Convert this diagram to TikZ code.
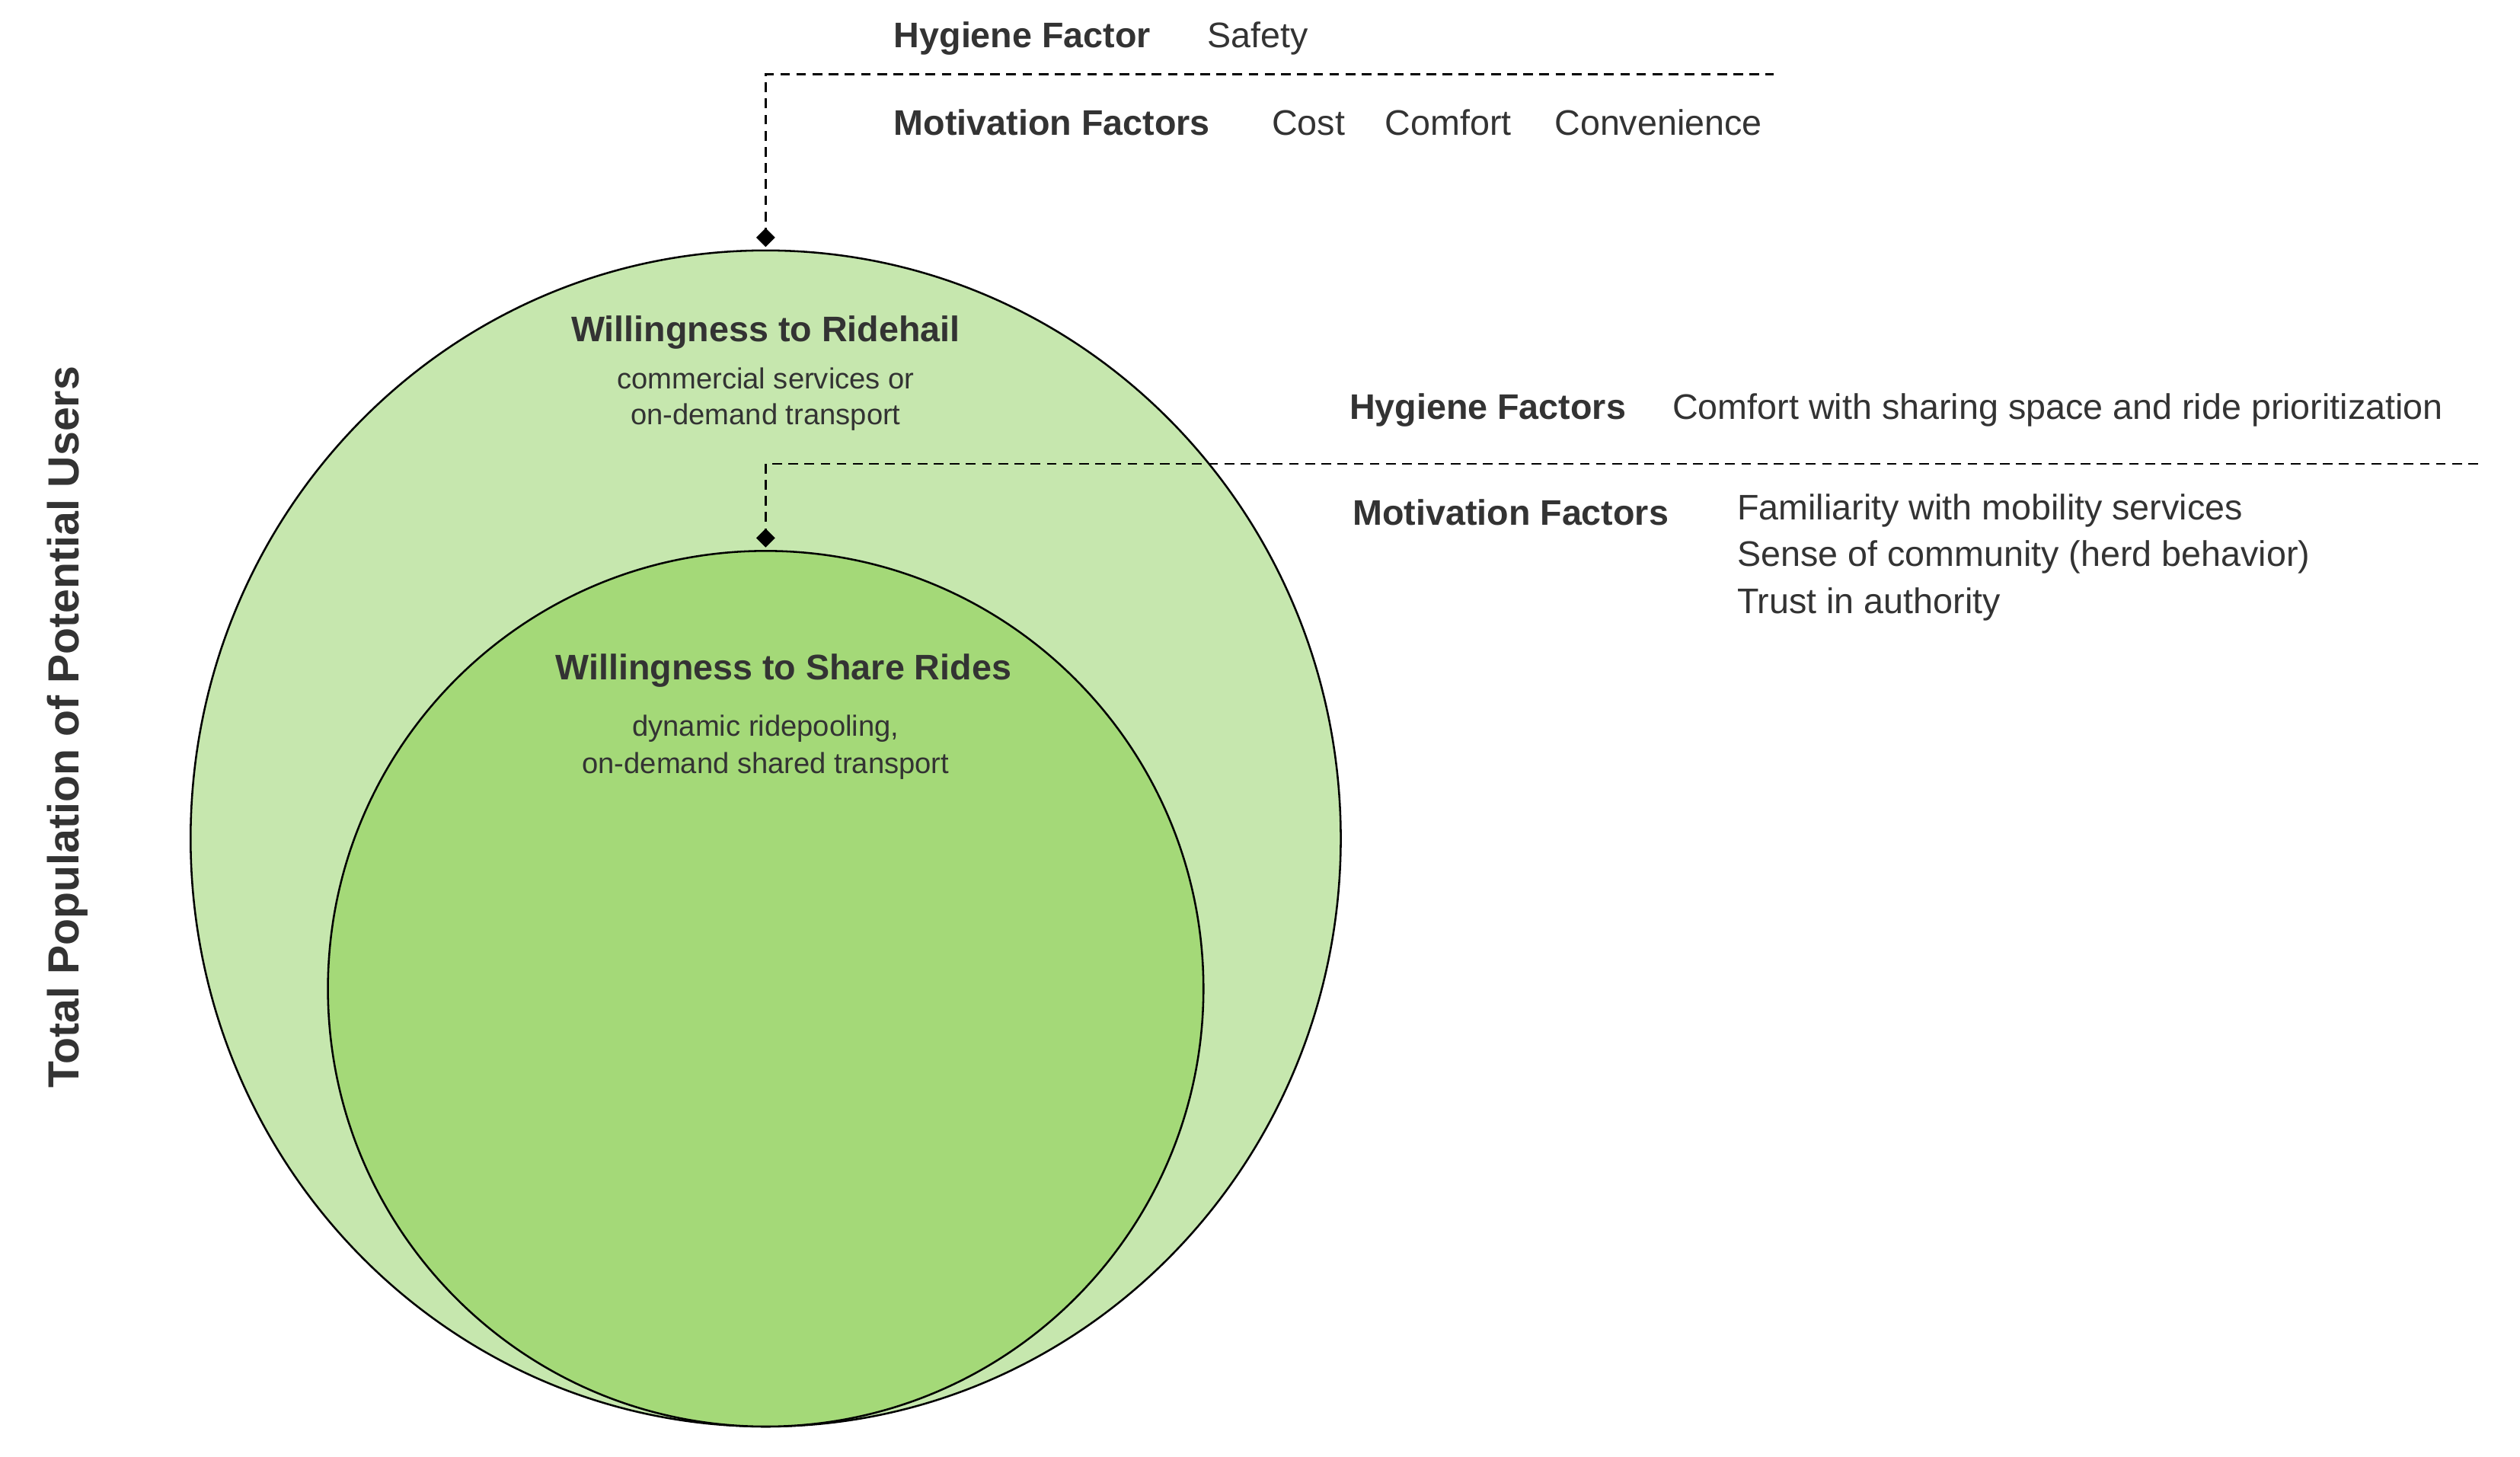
\documentclass[tikz,border=0pt]{standalone}
\usepackage{fontspec}
\setmainfont{Liberation Sans}
\usetikzlibrary{shapes.geometric}
\definecolor{txt}{HTML}{333333}
\definecolor{outerg}{HTML}{C6E7AE}
\definecolor{innerg}{HTML}{A4D978}
\begin{document}
\begin{tikzpicture}[x=0.5pt,y=-0.5pt,
  lbl/.style={font=\fontsize{11}{13}\selectfont,text=txt,inner sep=0,anchor=west},
  blbl/.style={lbl,font=\fontsize{11}{13}\selectfont\bfseries},
  small/.style={font=\fontsize{9}{11}\selectfont,text=txt,inner sep=0},
  dsh/.style={densely dashed,line width=0.6pt},
  dia/.style={diamond,fill=black,inner sep=0,minimum size=6pt}]
\useasboundingbox (0,0) rectangle (1560,901.4);
\node[ellipse,draw,line width=0.6pt,fill=outerg,minimum width=712\pgflinewidth*0+356pt,minimum height=364pt,inner sep=0] (outer) at (474,519) {};
\node[ellipse,draw,line width=0.6pt,fill=innerg,minimum width=271pt,minimum height=271pt,inner sep=0] (inner) at (474,612) {};
\node[rotate=90,font=\fontsize{13.5}{16}\selectfont\bfseries,text=txt] (pop) at (42,450) {Total Population of Potential Users};
% top annotation
\node[dia] (d1) at (474,147) {};
\coordinate (c1) at (474,46);
\coordinate (e1) at (1098,46);
\draw[dsh] (d1.center) -- (c1) -- (e1);
\node[blbl] (h1) at (553,24) {Hygiene Factor};
\node[lbl] (s1) at (747,24) {Safety};
\node[blbl] (m1) at (553,76) {Motivation Factors};
\node[lbl] (m1a) at (787,76) {Cost};
\node[lbl] (m1b) at (857,76) {Comfort};
\node[lbl] (m1c) at (962,76) {Convenience};
% second annotation
\node[dia] (d2) at (474,333) {};
\coordinate (c2) at (474,287);
\coordinate (e2) at (1537,287);
\draw[dsh] (d2.center) -- (c2) -- (e2);
\node[blbl] (h2) at (835,254) {Hygiene Factors};
\node[lbl] (s2) at (1035,254) {Comfort with sharing space and ride prioritization};
\node[blbl] (m2) at (837,317) {Motivation Factors};
\node[lbl] (m2a) at (1075,316) {Familiarity with mobility services};
\node[lbl] (m2b) at (1075,345) {Sense of community (herd behavior)};
\node[lbl] (m2c) at (1075,374) {Trust in authority};
% circle labels
\node[blbl,anchor=center] (t1) at (474,206) {Willingness to Ridehail};
\node[small] (t1a) at (474,234) {commercial services or};
\node[small] (t1b) at (474,258) {on-demand transport};
\node[blbl,anchor=center] (t2) at (485,415) {Willingness to Share Rides};
\node[small] (t2a) at (474,451) {dynamic ridepooling,};
\node[small] (t2b) at (474,474) {on-demand shared transport};
\end{tikzpicture}
\end{document}
